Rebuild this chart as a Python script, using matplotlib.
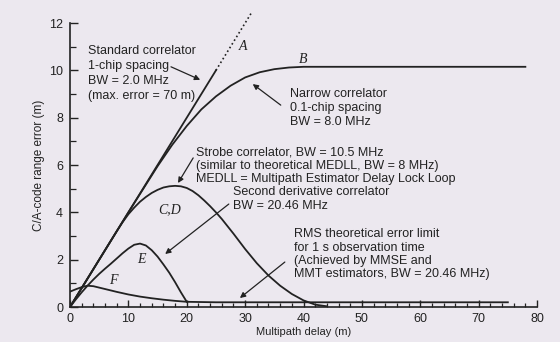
import matplotlib
matplotlib.use("Agg")
import matplotlib.pyplot as plt
from matplotlib.ticker import MultipleLocator

# multipath error envelopes, C/A code (delay in m, error in m)
a_solid_x = [0, 25]
a_solid_y = [0, 10.0]
a_dot_x = [25, 31]
a_dot_y = [10.0, 12.4]

b_x = [0, 5, 10, 15, 17.5, 20, 22.5, 25, 27.5, 30, 32.5, 35, 37.5, 40, 50, 60, 70, 78]
b_y = [0, 2.0, 4.0, 5.95, 6.85, 7.65, 8.35, 8.9, 9.35, 9.7, 9.92, 10.05, 10.12, 10.15,
       10.15, 10.15, 10.15, 10.15]

cd_x = [0, 8, 9, 10, 11, 12, 13, 14, 15, 16, 17, 18, 19, 20, 21, 22, 23, 24, 25, 26,
        28, 30, 32, 34, 36, 38, 40, 42, 44]
cd_y = [0, 3.2, 3.58, 3.92, 4.2, 4.45, 4.65, 4.82, 4.95, 5.05, 5.1, 5.12, 5.1, 5.03,
        4.9, 4.72, 4.5, 4.26, 4.0, 3.72, 3.1, 2.45, 1.85, 1.33, 0.9, 0.55, 0.28, 0.1, 0.03]

e_x = [0, 1, 2, 3, 4, 5, 6, 7, 8, 9, 10, 11, 12, 13, 14, 15, 16, 17, 18, 19, 20]
e_y = [0, 0.32, 0.62, 0.9, 1.16, 1.4, 1.62, 1.83, 2.05, 2.27, 2.47, 2.63, 2.68, 2.6,
       2.4, 2.13, 1.8, 1.45, 1.05, 0.62, 0.22]

f_x = [0, 1, 2, 3, 4, 5, 6, 8, 10, 12, 14, 16, 18, 20, 25, 30, 75]
f_y = [0.65, 0.75, 0.84, 0.9, 0.88, 0.82, 0.76, 0.64, 0.53, 0.44, 0.37, 0.31, 0.26,
       0.22, 0.2, 0.2, 0.2]

x_ticks = [0, 10, 20, 30, 40, 50, 60, 70, 80]
y_ticks = [0, 2, 4, 6, 8, 10, 12]

ink = "#222222"
paper = "#ece8ef"
sans = "Liberation Sans"
serif = "Liberation Serif"

plt.rcParams["font.family"] = [sans, "DejaVu Sans"]

fig = plt.figure(figsize=(5.6, 3.42), dpi=100, facecolor=paper)
ax = fig.add_axes([0.125, 0.1023, 0.834, 0.8304])
ax.set_facecolor(paper)

lw = 1.3
ax.plot(a_solid_x, a_solid_y, color=ink, lw=lw)
ax.plot(a_dot_x, a_dot_y, color=ink, lw=1.2, ls=(0, (1, 1.6)), clip_on=False)
ax.plot(b_x, b_y, color=ink, lw=lw)
ax.plot(cd_x, cd_y, color=ink, lw=lw)
ax.plot(e_x, e_y, color=ink, lw=lw)
ax.plot(f_x, f_y, color=ink, lw=lw)

ax.set_xlim(0, 80)
ax.set_ylim(0, 12)
for side in ("top", "right"):
    ax.spines[side].set_visible(False)
for side in ("left", "bottom"):
    ax.spines[side].set_color(ink)
    ax.spines[side].set_linewidth(1.2)

ax.set_xticks(x_ticks)
ax.set_yticks(y_ticks)
ax.xaxis.set_minor_locator(MultipleLocator(2))
ax.yaxis.set_minor_locator(MultipleLocator(1))
ax.tick_params(axis="both", which="major", direction="in", color=ink, labelcolor=ink,
               labelsize=9, width=1.0)
ax.tick_params(axis="x", which="major", length=5, pad=4.5)
ax.tick_params(axis="x", which="minor", direction="in", length=3, width=0.9, color=ink)
ax.tick_params(axis="y", which="major", length=6, pad=5)
ax.tick_params(axis="y", which="minor", direction="in", length=4, width=0.9, color=ink)

ax.set_xlabel("Multipath delay (m)", fontsize=8, color=ink, labelpad=1)
ax.set_ylabel("C/A-code range error (m)", fontsize=8.5, color=ink, labelpad=3)

# curve letters
letter = dict(family=serif, style="italic", fontsize=10, color=ink, ha="center", va="center")
ax.text(29.7, 11.0, "A", **letter)
ax.text(40.0, 10.45, "B", **letter)
ax.text(17.1, 4.13, "C,D", **letter)
ax.text(12.3, 2.02, "E", **letter)
ax.text(7.4, 1.1, "F", **letter)

note = dict(fontsize=9, color=ink, ha="left", va="top")
arrow = dict(arrowstyle="-|>", color=ink, lw=0.9, mutation_scale=8, shrinkA=0, shrinkB=0)

ax.text(3.1, 11.05, "Standard correlator\n1-chip spacing\nBW = 2.0 MHz\n(max. error = 70 m)",
        linespacing=1.3, **note)
ax.annotate("", xy=(22.3, 9.6), xytext=(17.3, 10.15), arrowprops=arrow)

ax.text(37.7, 9.25, "Narrow correlator\n0.1-chip spacing\nBW = 8.0 MHz",
        linespacing=1.2, **note)
ax.annotate("", xy=(31.3, 9.42), xytext=(36.1, 8.53), arrowprops=arrow)

ax.text(21.6, 6.77, "Strobe correlator, BW = 10.5 MHz\n"
        "(similar to theoretical MEDLL, BW = 8 MHz)\n"
        "MEDLL = Multipath Estimator Delay Lock Loop", linespacing=1.12, **note)
ax.annotate("", xy=(18.5, 5.24), xytext=(21.1, 6.3), arrowprops=arrow)

ax.text(27.9, 5.12, "Second derivative correlator\nBW = 20.46 MHz",
        linespacing=1.2, **note)
ax.annotate("", xy=(16.3, 2.24), xytext=(27.2, 4.35), arrowprops=arrow)

ax.text(38.4, 3.32, "RMS theoretical error limit\nfor 1 s observation time\n"
        "(Achieved by MMSE and\nMMT estimators, BW = 20.46 MHz)", linespacing=1.14, **note)
ax.annotate("", xy=(29.1, 0.38), xytext=(36.8, 1.9), arrowprops=arrow)

fig.savefig("out.png", dpi=100, facecolor=paper)
